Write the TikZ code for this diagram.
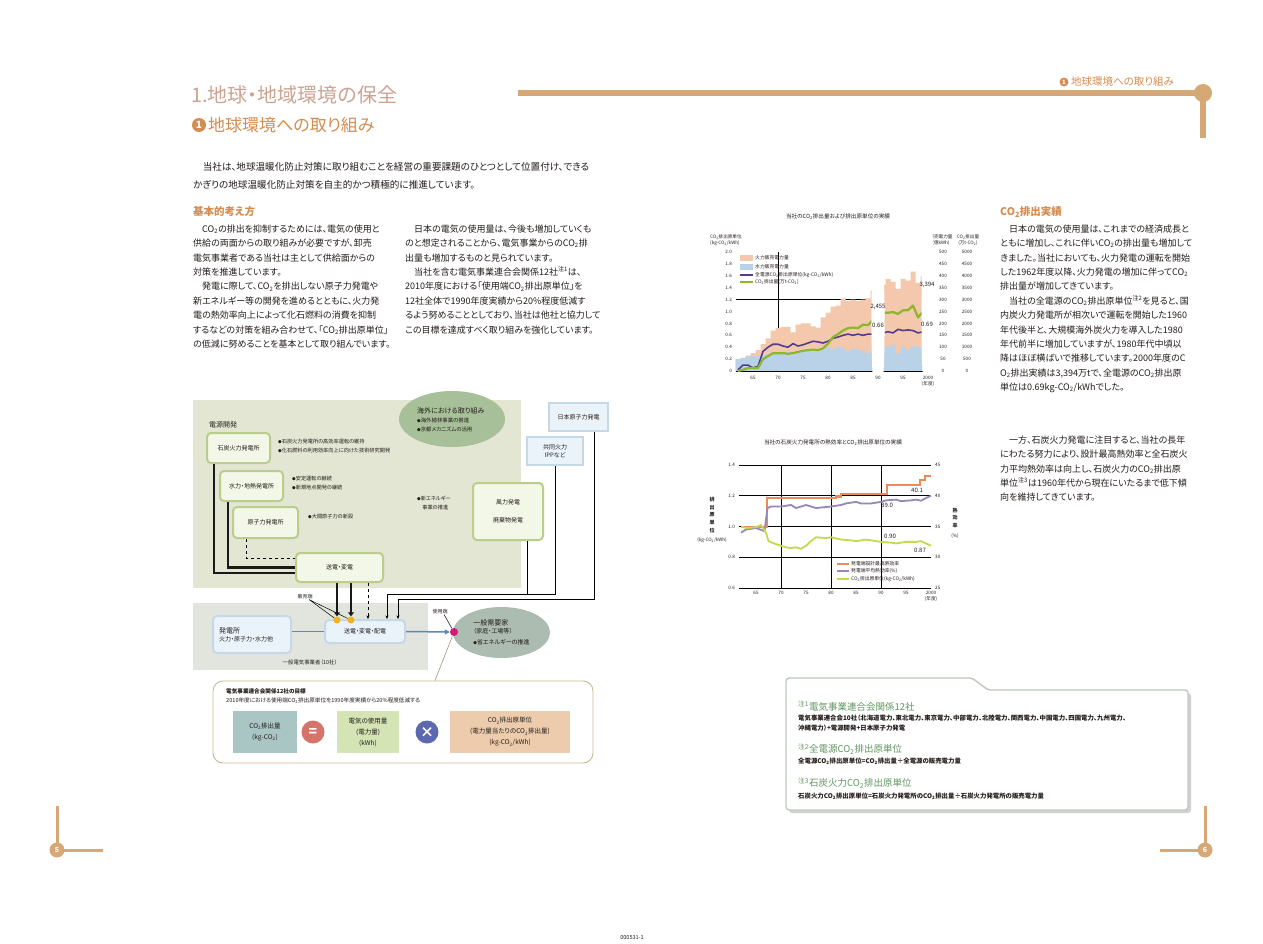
\documentclass[tikz,border=0pt]{standalone}
\usepackage{fontspec}
\setmainfont[RawFeature=+palt]{Noto Sans CJK JP}
\usetikzlibrary{positioning,arrows.meta,shapes.geometric}

\definecolor{titulo}{RGB}{204,164,146}
\definecolor{naranja}{RGB}{212,140,80}
\definecolor{barra}{RGB}{214,168,118}
\definecolor{texto}{RGB}{35,28,26}
\definecolor{fondoverde}{RGB}{226,230,210}
\definecolor{fondogris}{RGB}{226,229,222}
\definecolor{cajaverde}{RGB}{243,247,232}
\definecolor{bordeverde}{RGB}{186,206,140}
\definecolor{cajaazul}{RGB}{234,243,250}
\definecolor{bordeazul}{RGB}{198,216,230}
\definecolor{elipseverde}{RGB}{168,192,154}
\definecolor{elipsegris}{RGB}{172,188,176}
\definecolor{lineaazul}{RGB}{92,136,186}
\definecolor{puntomag}{RGB}{214,24,120}
\definecolor{amarillo}{RGB}{240,178,30}
\definecolor{marco}{RGB}{200,186,146}
\definecolor{cajaco}{RGB}{170,198,196}
\definecolor{cajakwh}{RGB}{212,228,180}
\definecolor{cajaunit}{RGB}{236,204,172}
\definecolor{igual}{RGB}{212,116,106}
\definecolor{por}{RGB}{92,104,176}
\definecolor{melocoton}{RGB}{244,200,172}
\definecolor{celeste}{RGB}{186,210,232}
\definecolor{morado}{RGB}{84,60,140}
\definecolor{verdelinea}{RGB}{140,182,44}
\definecolor{naranjalinea}{RGB}{234,140,90}
\definecolor{lila}{RGB}{150,136,186}
\definecolor{lima}{RGB}{196,218,76}
\definecolor{notaverde}{RGB}{96,150,96}
\definecolor{bordenota}{RGB}{190,202,190}

\newcommand\cotwo{CO\textsubscript{2}}
\newcommand\punto{{\fontsize{3.6}{3.6}\selectfont ●}}

\begin{document}
\begin{tikzpicture}[x=1pt,y=-1pt,
  every node/.style={text=texto, inner sep=0pt},
  parrafo/.style={anchor=north west, align=left, font=\fontsize{9}{14.4}\selectfont},
  titulillo/.style={anchor=west, text=naranja, font=\fontsize{10.5}{12}\selectfont\bfseries},
  planta/.style={draw=bordeverde, fill=cajaverde, line width=2pt, rounded corners=4pt, align=center, font=\fontsize{6}{8}\selectfont},
  azul/.style={planta, draw=bordeazul, fill=cajaazul},
  externo/.style={azul, rounded corners=0pt, line width=2.5pt},
  vineta/.style={anchor=west, align=left, font=\fontsize{5.2}{8.5}\selectfont},
  grueso/.style={line width=2.6pt, black!90},
  fino/.style={line width=0.7pt, black},
  flecha/.style={-{Stealth[length=3.5pt,width=3pt]}},
  eje/.style={font=\fontsize{4.6}{5.4}\selectfont},
  numero/.style={font=\fontsize{6}{7}\selectfont},
  formula/.style={minimum width=64pt, minimum height=42pt, align=center, font=\fontsize{6.5}{11}\selectfont},
  signo/.style={circle, minimum size=23pt, text=white, font=\fontsize{14}{14}\selectfont\bfseries},
  leyenda/.style={anchor=west, font=\fontsize{4.8}{5}\selectfont},
  nota/.style={anchor=west, text=notaverde, font=\fontsize{9.5}{10}\selectfont},
  notatexto/.style={anchor=west, align=left, font=\fontsize{6.4}{10}\selectfont\bfseries},
  pagina/.style={circle, fill=barra, minimum size=15pt, text=white, font=\fontsize{7}{7}\selectfont\bfseries}]

\fill[white] (0,0) rectangle (1263,944);
\useasboundingbox (0,0) rectangle (1263,944);

% Titulos
\node[anchor=west, text=titulo, font=\fontsize{20}{22}\selectfont] (titulo) at (191,95) {1.地球・地域環境の保全};
\node[circle, fill=naranja, minimum size=14pt, text=white, font=\fontsize{10}{10}\selectfont\bfseries] (uno) at (199,125) {1};
\node[anchor=west, text=naranja, font=\fontsize{17}{19}\selectfont] (subtitulo) at (208,125) {地球環境への取り組み};

% Barra superior y cabecera
\draw[barra, line width=6pt] (518,93) -- (1203,93) -- (1203,138);
\fill[barra] (1203,93) circle (9);
\node[circle, fill=naranja, minimum size=9pt, text=white, font=\fontsize{6}{6}\selectfont\bfseries] (uno2) at (1064,82) {1};
\node[anchor=west, text=naranja, font=\fontsize{10.5}{11}\selectfont] (cabecera) at (1071,82) {地球環境への取り組み};

% Pies de pagina
\draw[barra, line width=3pt] (57,806) -- (57,850) -- (103,850);
\node[pagina] (pag5) at (57,850) {5};
\draw[barra, line width=3pt] (1205,806) -- (1205,850) -- (1160,850);
\node[pagina] (pag6) at (1205,850) {6};
\node[font=\fontsize{5.5}{6}\selectfont] (codigo) at (632,938) {000531-1};

% Textos de la pagina izquierda
\node[parrafo, font=\fontsize{9.6}{18}\selectfont] (intro) at (193,162) {　当社は、地球温暖化防止対策に取り組むことを経営の重要課題のひとつとして位置付け、できる\\かぎりの地球温暖化防止対策を自主的かつ積極的に推進しています。};
\node[titulillo] (basico) at (193,212) {基本的考え方};
\node[parrafo] (col1) at (193,224.5) {　\cotwo の排出を抑制するためには、電気の使用と\\供給の両面からの取り組みが必要ですが、卸売\\電気事業者である当社は主として供給面からの\\対策を推進しています。\\　発電に際して、\cotwo を排出しない原子力発電や\\新エネルギー等の開発を進めるとともに、火力発\\電の熱効率向上によって化石燃料の消費を抑制\\するなどの対策を組み合わせて、「\cotwo 排出原単位」\\の低減に努めることを基本として取り組んでいます。};
\node[parrafo] (col2) at (405,224.5) {　日本の電気の使用量は、今後も増加していくも\\のと想定されることから、電気事業からの\cotwo 排\\出量も増加するものと見られています。\\　当社を含む電気事業連合会関係12社\textsuperscript{注1}は、\\2010年度における「使用端\cotwo 排出原単位」を\\12社全体で1990年度実績から20\%程度低減す\\るよう努めることとしており、当社は他社と協力して\\この目標を達成すべく取り組みを強化しています。};

% Fondos del esquema
\fill[fondoverde] (193,400) rectangle (521,588);
\fill[fondogris] (193,603) rectangle (428,670);
\node[anchor=west, font=\fontsize{7}{8}\selectfont] (dengen) at (209,425) {電源開発};
\node[ellipse, fill=elipseverde, minimum width=106pt, minimum height=56pt] (exterior) at (452,419) {};
\node[vineta, anchor=north west, font=\fontsize{5.4}{9}\selectfont] (exttxt) at (417,407) {{\fontsize{7}{9}\selectfont 海外における取り組み}\\\punto 海外植林事業の推進\\\punto 京都メカニズムの活用};

% Centrales
\node[planta, minimum width=63pt, minimum height=30pt] (carbon) at (238.5,448) {石炭火力発電所};
\node[planta, minimum width=63pt, minimum height=30pt] (hidro) at (251.5,486) {水力・地熱発電所};
\node[planta, minimum width=65pt, minimum height=31pt] (nuclear) at (265.5,522.5) {原子力発電所};
\node[planta, minimum width=70pt, minimum height=57pt] (eolica) at (508,511.5) {風力発電\\[10pt]廃棄物発電};
\node[planta, minimum width=87pt, minimum height=29pt] (transm) at (339.5,567.5) {送電・変電};
\node[externo, minimum width=59pt, minimum height=28pt] (japc) at (578.5,417) {日本原子力発電};
\node[externo, minimum width=56pt, minimum height=28pt] (ipp) at (555,451) {共同火力\\IPPなど};

\node[vineta] (v1) at (278,446) {\punto 石炭火力発電所の高効率運転の維持\\\punto 化石燃料の利用効率向上に向けた技術研究開発};
\node[vineta] (v2) at (292,483) {\punto 安定運転の継続\\\punto 新規地点開発の継続};
\node[vineta] (v3) at (308,517) {\punto 大間原子力の新設};
\node[vineta] (v4) at (417,503) {\punto 新エネルギー\\　事業の推進};

% Lineas de suministro
\draw[grueso] ([xshift=-24.5pt]carbon.south) |- ([yshift=-5.5pt]transm.west);
\draw[grueso] ([xshift=-23.5pt]hidro.south) |- (transm.west);
\draw[fino, dashed] ([xshift=-19.5pt]nuclear.south) |- ([yshift=9.5pt]transm.west);

% Parte inferior
\node[azul, minimum width=80pt, minimum height=23pt] (distrib) at (365,631.5) {送電・変電・配電};
\node[azul, minimum width=78pt, minimum height=37pt, text width=66pt, align=left] (central) at (252,634.5) {{\fontsize{7}{9}\selectfont 発電所}\\火力・原子力・水力他};
\node[ellipse, fill=elipsegris, minimum width=97pt, minimum height=51pt, align=left, font=\fontsize{6}{8}\selectfont] (cliente) at (501.5,632.5) {{\fontsize{7}{8}\selectfont 一般需要家}\\（家庭・工場等）\\[3pt]\punto 省エネルギーの推進};
\node[font=\fontsize{5.4}{6}\selectfont] (jigyosha) at (310,662) {一般電気事業者（10社）};

\node[circle, fill=amarillo, minimum size=7pt] (p1) at (337,620) {};
\node[circle, fill=amarillo, minimum size=7pt] (p2) at (351,620) {};
\node[circle, fill=puntomag, minimum size=8pt] (uso) at (454,632) {};
\node[font=\fontsize{5}{6}\selectfont] (venta) at (305,597) {販売端};
\node[font=\fontsize{5}{6}\selectfont] (usotxt) at (440,612) {使用端};

\draw[grueso, -{Triangle[length=4pt,width=6pt]}] (transm.south -| p1) -- (p1.north);
\draw[grueso, -{Triangle[length=4pt,width=6pt]}] (transm.south -| p2) -- (p2.north);
\draw[fino, dashed, flecha] ([xshift=28.5pt]transm.south) -- ([xshift=28.5pt]transm.south |- distrib.north);
\draw[fino, line width=0.5pt] ([xshift=4pt]venta.south) -- (p1) ([xshift=4pt]venta.south) -- (p2);
\draw[fino, line width=0.5pt] ([xshift=4pt]usotxt.south) -- (uso);

\coordinate (j1) at (387,594);
\coordinate (j2) at (398,599);
\draw[fino, flecha] ([xshift=19pt]eolica.south) |- (j1) -- (j1 |- distrib.north);
\draw[fino] (ipp.south) -- (ipp.south |- j1) -- ([xshift=19pt]eolica.south |- j1);
\draw[fino, flecha] ([xshift=15.5pt]japc.south) |- (j2) -- (j2 |- distrib.north);

\draw[line width=1.5pt, lineaazul] (central.east |- distrib.west) -- (distrib.west);
\draw[line width=1.5pt, lineaazul, -{Triangle[length=5pt,width=5pt]}] (distrib.east) -- (uso.west);

% Formula del objetivo
\node[draw=marco, line width=0.9pt, rounded corners=10pt, minimum width=380pt, minimum height=82pt] (meta) at (403,722) {};
\draw[marco!80!black, line width=0.6pt] (uso) -- ([xshift=32pt]meta.north);
\node[anchor=west, font=\fontsize{5.6}{6}\selectfont\bfseries] (metatit) at (226,691) {電気事業連合会関係12社の目標};
\node[anchor=west, font=\fontsize{5.6}{6}\selectfont] (metatxt) at (226,701) {2010年度における使用端\cotwo 排出原単位を1990年度実績から20\%程度低減する};
\node[formula, fill=cajaco] (emision) at (265,732) {\cotwo 排出量\\(kg-\cotwo)};
\node[signo, fill=igual] (eq) at (313,732) {=};
\node[formula, fill=cajakwh, minimum width=62pt] (consumo) at (368,732) {電気の使用量\\(電力量)\\(kWh)};
\node[signo, fill=por] (mult) at (427,732) {×};
\node[formula, fill=cajaunit, minimum width=120pt] (unidad) at (510,732) {\cotwo 排出原単位\\(電力量当たりの\cotwo 排出量)\\(kg-\cotwo/kWh)};

% Grafico 1: emisiones y unidad
\node[font=\fontsize{5.6}{6}\selectfont] (tit1) at (838,217) {当社の\cotwo 排出量および排出原単位の実績};
\node[eje, anchor=west, align=left] (ejeiz1) at (710,240) {\cotwo 排出原単位\\(kg-\cotwo/kWh)};
\node[eje, align=center] (ejede1) at (941,240) {販売電力量\\(億kWh)};
\node[eje, align=center] (ejede2) at (968,240) {\cotwo 排出量\\(万t-\cotwo)};
\begin{scope}[shift={(428,371)},xscale=5,yscale=-59.5]
  % rejilla
  \draw[black, line width=0.8pt] (70,0) -- (70,2) (90,0) -- (90,2) (61.5,1.2) -- (100.5,1.2);
  % areas
  \fill[melocoton] (61.5,0) \foreach \v [count=\a from 62] in {0.2,0.22,0.26,0.3,0.35,0.45,0.55,0.68,0.72,0.74,0.74,0.65,0.78,0.8,0.8,0.75,0.73,0.9,0.98,1.08,1.1,1.22,1.18,1.2,1.18,1.2,1.22,1.35,1.5,1.45,1.55,1.5,1.38,1.55,1.52,1.67,1.48,1.6,1.95} {-- (\a-0.5,\v) -- (\a+0.5,\v)} -- (100.5,0) -- cycle;
  \fill[celeste] (61.5,0) \foreach \v [count=\a from 62] in {0.2,0.22,0.24,0.26,0.25,0.27,0.28,0.3,0.31,0.3,0.32,0.28,0.32,0.33,0.35,0.32,0.35,0.36,0.4,0.37,0.4,0.38,0.33,0.38,0.36,0.34,0.3,0.38,0.4,0.42,0.4,0.44,0.3,0.4,0.36,0.42,0.4,0.42,0.4} {-- (\a-0.5,\v) -- (\a+0.5,\v)} -- (100.5,0) -- cycle;
  \draw[black, line width=0.6pt] (61.5,0) -- (100.5,0);
  % lineas
  \draw[morado, line width=1.6pt, line join=round] (62,0.02) \foreach \v [count=\a from 63] in {0.1,0.1,0.05,0.08,0.33,0.4,0.45,0.45,0.42,0.4,0.46,0.42,0.44,0.47,0.5,0.49,0.47,0.5,0.55,0.57,0.6,0.62,0.6,0.62,0.6,0.62,0.62,0.66,0.64,0.66,0.64,0.7,0.68,0.69,0.68,0.64,0.66,0.69} {-- (\a,\v)};
  \draw[verdelinea, line width=2.2pt, line join=round] (62,0) \foreach \v [count=\a from 63] in {0.02,0.05,0.05,0.05,0.2,0.25,0.3,0.3,0.3,0.29,0.3,0.32,0.34,0.35,0.36,0.35,0.38,0.46,0.57,0.62,0.68,0.72,0.73,0.72,0.78,0.77,0.86,0.98,0.98,0.98,0.99,0.96,1.02,1.02,1.1,0.9,1.0,1.36} {-- (\a,\v)};
  \foreach \p in {(90,0.98),(100,1.36),(90,0.66),(100,0.69)} \fill[white] \p circle (1.3pt);
  \node[numero] (v2455) at (90,1.08) {2,455};
  \node[numero] (v066) at (90,0.77) {0.66};
  \node[numero] (v3394) at (99.8,1.45) {3,394};
  \node[numero] (v069) at (99.8,0.79) {0.69};
  % ejes
  \foreach \v in {0,0.2,0.4,0.6,0.8,1.0,1.2,1.4,1.6,1.8,2.0} \node[eje, anchor=east] at (60.8,\v) {\v};
  \foreach \v/\b/\c in {0/0/0,0.2/50/500,0.4/100/1000,0.6/150/1500,0.8/200/2000,1.0/250/2500,1.2/300/3000,1.4/350/3500,1.6/400/4000,1.8/450/4500,2.0/500/5000} {
    \node[eje] at (103,\v) {\b};
    \node[eje] at (107.8,\v) {\c};
  }
  \foreach \a in {65,70,75,80,85,90,95} \node[eje] at (\a,-0.12) {\a};
  \node[eje, align=center] (anio1) at (100,-0.17) {2000\\(年度)};
\end{scope}
% leyenda 1
\fill[melocoton] (740,255) rectangle (753,261);
\node[leyenda] (ley1) at (755,258) {火力販売電力量};
\fill[celeste] (740,264) rectangle (753,270);
\node[leyenda] (ley2) at (755,267) {水力販売電力量};
\draw[morado, line width=1.6pt] (740,275) -- (753,275);
\node[leyenda] (ley3) at (755,275) {全電源\cotwo 排出原単位(kg-\cotwo/kWh)};
\draw[verdelinea, line width=2.2pt] (740,282) -- (753,282);
\node[leyenda] (ley4) at (755,282) {\cotwo 排出量(万t-\cotwo)};

% Grafico 2: carbon
\node[font=\fontsize{5.6}{6}\selectfont] (tit2) at (833,443) {当社の石炭火力発電所の熱効率と\cotwo 排出原単位の実績};
\node[eje, align=center, font=\fontsize{5}{5.6}\selectfont\bfseries] (ejeiz2) at (712,515) {\shortstack{排\\出\\原\\単\\位}};
\node[eje] (ejeiz2b) at (712,540) {(kg-\cotwo/kWh)};
\node[eje, align=center, font=\fontsize{5}{5.6}\selectfont\bfseries] (ejede3) at (955,518) {\shortstack{熱\\効\\率}};
\node[eje] (ejede3b) at (955,536) {(\%)};
\begin{scope}[shift={(431,680.25)},xscale=5,yscale=-153.75]
  \foreach \v in {0.6,0.8,1.0,1.2,1.4} \draw[black, line width=0.6pt] (61.5,\v) -- (100,\v);
  \draw[black, line width=0.8pt] (70,0.6) -- (70,1.4) (80,0.6) -- (80,1.4) (90,0.6) -- (90,1.4);
  \draw[naranjalinea, line width=2.2pt] (62,0.995) -- (67.2,0.995) -- (67.2,1.185) -- (81,1.185) -- (81,1.195) -- (82,1.195) -- (82,1.21) -- (91.2,1.21) -- (91.2,1.27) -- (97.8,1.27) -- (97.8,1.3) -- (98.8,1.3) -- (98.8,1.33) -- (100,1.33);
  \draw[lila, line width=1.8pt, line join=round] (62,0.96) -- (63,0.98) -- (65,0.99) -- (66.7,0.97) -- (67.3,1.12) -- (68,1.13) -- (70,1.13) -- (72,1.14) -- (73,1.12) -- (75,1.14) -- (77,1.12) -- (80,1.13) -- (82,1.14) -- (83,1.15) -- (85,1.16) -- (86,1.15) -- (88,1.15) -- (90,1.16) -- (91,1.17) -- (93,1.175) -- (94,1.165) -- (96,1.17) -- (97,1.175) -- (98,1.168) -- (99,1.185) -- (100,1.2);
  \draw[lima, line width=1.8pt, line join=round] (62,1.0) -- (63,0.99) -- (65,0.995) -- (66,1.01) -- (67,0.96) -- (67.5,0.905) -- (69,0.885) -- (71,0.865) -- (72,0.86) -- (73,0.865) -- (74,0.855) -- (75,0.875) -- (76,0.905) -- (77,0.93) -- (79,0.925) -- (80,0.93) -- (82,0.915) -- (84,0.91) -- (85,0.905) -- (87,0.915) -- (89,0.905) -- (90,0.9) -- (92,0.895) -- (93,0.89) -- (95,0.9) -- (97,0.9) -- (98,0.905) -- (99,0.89) -- (100,0.875);
  \node[numero] (v401) at (97.2,1.237) {40.1};
  \node[numero] (v390) at (91.2,1.14) {39.0};
  \node[numero] (v090) at (91.8,0.938) {0.90};
  \node[numero] (v087) at (97.8,0.847) {0.87};
  \foreach \v/\b in {0.6/25,0.8/30,1.0/35,1.2/40,1.4/45} {
    \node[eje, anchor=east] at (60.8,\v) {\v};
    \node[eje, anchor=west] at (100.8,\v) {\b};
  }
  \foreach \a in {65,70,75,80,85,90,95} \node[eje] at (\a,0.567) {\a};
  \node[eje, align=center] (anio2) at (100,0.547) {2000\\(年度)};
\end{scope}
% leyenda 2
\draw[naranjalinea, line width=2.2pt] (837,564) -- (849,564);
\node[leyenda] (ley5) at (851,564) {発電端設計最高熱効率};
\draw[lila, line width=1.8pt] (837,571) -- (849,571);
\node[leyenda] (ley6) at (851,571) {発電端平均熱効率(\%)};
\draw[lima, line width=1.8pt] (837,579) -- (849,579);
\node[leyenda] (ley7) at (851,579) {\cotwo 排出原単位(kg-\cotwo/kWh)};

% Textos de la pagina derecha
\node[titulillo] (jisseki) at (1000,212) {\cotwo 排出実績};
\node[parrafo] (col3) at (1000,224.5) {　日本の電気の使用量は、これまでの経済成長と\\ともに増加し、これに伴い\cotwo の排出量も増加して\\きました。当社においても、火力発電の運転を開始\\した1962年度以降、火力発電の増加に伴って\cotwo\\排出量が増加してきています。\\　当社の全電源の\cotwo 排出原単位\textsuperscript{注2}を見ると、国\\内炭火力発電所が相次いで運転を開始した1960\\年代後半と、大規模海外炭火力を導入した1980\\年代前半に増加していますが、1980年代中頃以\\降はほぼ横ばいで推移しています。2000年度のC\\O\textsubscript{2}排出実績は3,394万tで、全電源の\cotwo 排出原\\単位は0.69kg-\cotwo/kWhでした。};
\node[parrafo] (col4) at (1000,435.5) {　一方、石炭火力発電に注目すると、当社の長年\\にわたる努力により、設計最高熱効率と全石炭火\\力平均熱効率は向上し、石炭火力の\cotwo 排出原\\単位\textsuperscript{注3}は1960年代から現在にいたるまで低下傾\\向を維持してきています。};

% Recuadro de notas
\fill[black!18, rounded corners=3pt] (789,681) -- (975,681) -- (991,693) -- (1191,693) -- (1191,813) -- (789,813) -- cycle;
\draw[bordenota, line width=1.4pt, fill=white, rounded corners=3pt] (786,678) -- (972,678) -- (988,690) -- (1188,690) -- (1188,810) -- (786,810) -- cycle;
\node[nota] (n1) at (798,706) {\textsuperscript{注1}電気事業連合会関係12社};
\node[notatexto] (n1t) at (798,723) {電気事業連合会10社（北海道電力、東北電力、東京電力、中部電力、北陸電力、関西電力、中国電力、四国電力、九州電力、\\沖縄電力）+電源開発+日本原子力発電};
\node[nota] (n2) at (798,749) {\textsuperscript{注2}全電源\cotwo 排出原単位};
\node[notatexto] (n2t) at (798,761) {全電源\cotwo 排出原単位=\cotwo 排出量÷全電源の販売電力量};
\node[nota] (n3) at (798,783) {\textsuperscript{注3}石炭火力\cotwo 排出原単位};
\node[notatexto] (n3t) at (798,796) {石炭火力\cotwo 排出原単位=石炭火力発電所の\cotwo 排出量÷石炭火力発電所の販売電力量};

\end{tikzpicture}
\end{document}
